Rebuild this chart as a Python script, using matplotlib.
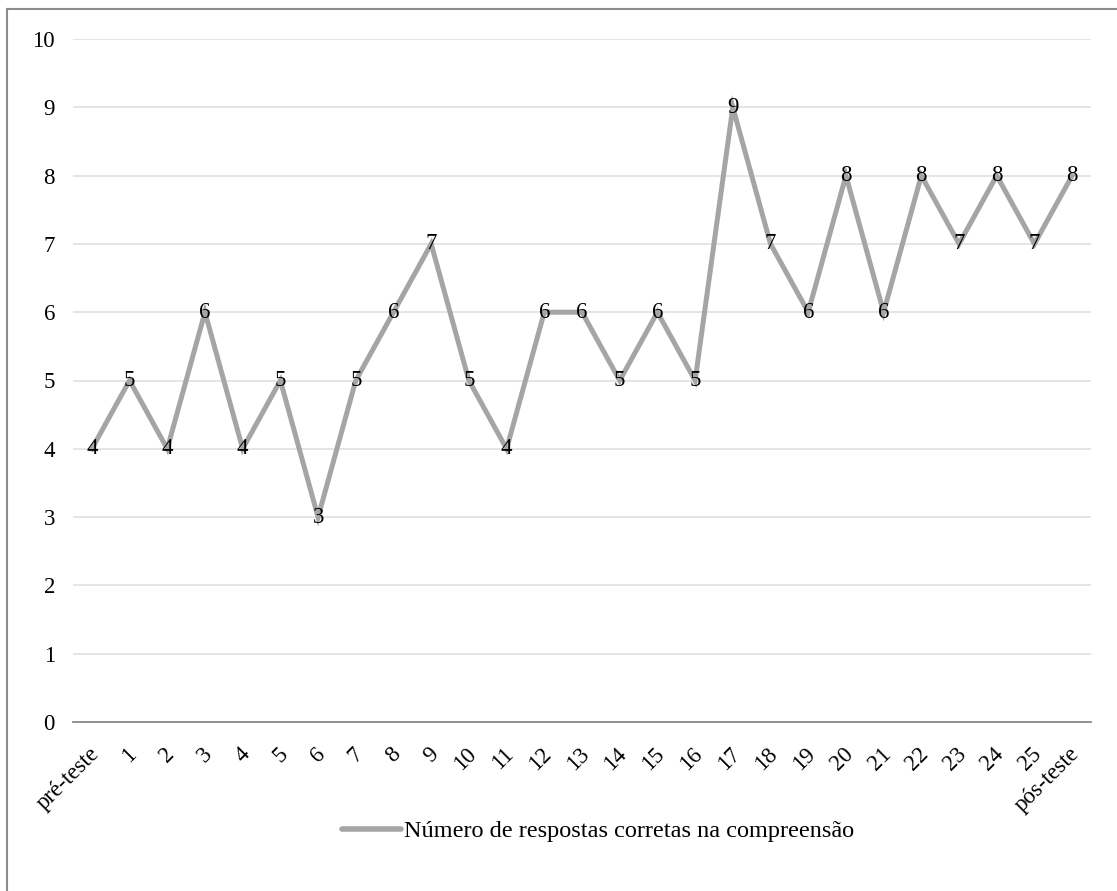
import matplotlib
matplotlib.use("Agg")
import matplotlib.pyplot as plt
import matplotlib.transforms as mtransforms
from matplotlib.lines import Line2D

plt.rcParams['font.family'] = ['Liberation Serif', 'DejaVu Serif']

categories = ['pré-teste'] + [str(i) for i in range(1, 26)] + ['pós-teste']
values = [4, 5, 4, 6, 4, 5, 3, 5, 6, 7, 5, 4, 6, 6, 5, 6, 5, 9, 7, 6, 8, 6, 8, 7, 8, 7, 8]
series_name = 'Número de respostas corretas na compreensão'
y_ticks = list(range(0, 11))

W, H = 1117, 891
fig = plt.figure(figsize=(W / 100, H / 100), dpi=100)
ax = fig.add_axes([73 / W, 1 - 722 / H, (1091 - 73) / W, (722 - 39) / H])

FS = 16.5
x = list(range(len(categories)))
line_color = '#A5A5A5'
ax.plot(x, values, color=line_color, lw=3.6, solid_joinstyle='miter', zorder=3)

for xi, v in zip(x, values):
    ax.text(xi, v, str(v), ha='center', va='center', fontsize=FS, color='black', zorder=4)

ax.set_xlim(-0.5, len(categories) - 0.5)
ax.set_ylim(0, 10)
ax.set_yticks(y_ticks)
ax.set_yticklabels([str(t) for t in y_ticks], fontsize=FS)
ax.set_xticks(x)
ax.set_xticklabels(categories, fontsize=FS, rotation=45, ha='right', va='center',
                   rotation_mode='anchor')
ax.tick_params(axis='both', length=0)
ax.tick_params(axis='y', pad=13)
ax.tick_params(axis='x', pad=21)

# nudge the slanted category labels a little to the right
shift = mtransforms.ScaledTranslation(4 / 100, 0, fig.dpi_scale_trans)
for lbl in ax.get_xticklabels():
    lbl.set_transform(lbl.get_transform() + shift)

ax.grid(axis='y', color='#E3E3E3', lw=1.3, zorder=0)
ax.set_axisbelow(True)
for s in ['top', 'right', 'left']:
    ax.spines[s].set_visible(False)
ax.spines['bottom'].set_color('#8A8A8A')
ax.spines['bottom'].set_linewidth(1.3)
ax.spines['bottom'].set_zorder(2)

handle = Line2D([], [], color=line_color, lw=4.0, solid_capstyle='round')
fig.legend([handle], [series_name], loc='center', bbox_to_anchor=(598 / W, 1 - 831 / H),
           frameon=False, fontsize=17.5, handlelength=2.4, handletextpad=0.12)

# outer frame (top and left edges)
fig.add_artist(Line2D([7 / W, 1], [1 - 9 / H, 1 - 9 / H], color='#8C8C8C', lw=1.5, transform=fig.transFigure))
fig.add_artist(Line2D([7 / W, 7 / W], [0, 1 - 9 / H], color='#8C8C8C', lw=1.5, transform=fig.transFigure))

fig.savefig('out.png', dpi=100, facecolor='white')
